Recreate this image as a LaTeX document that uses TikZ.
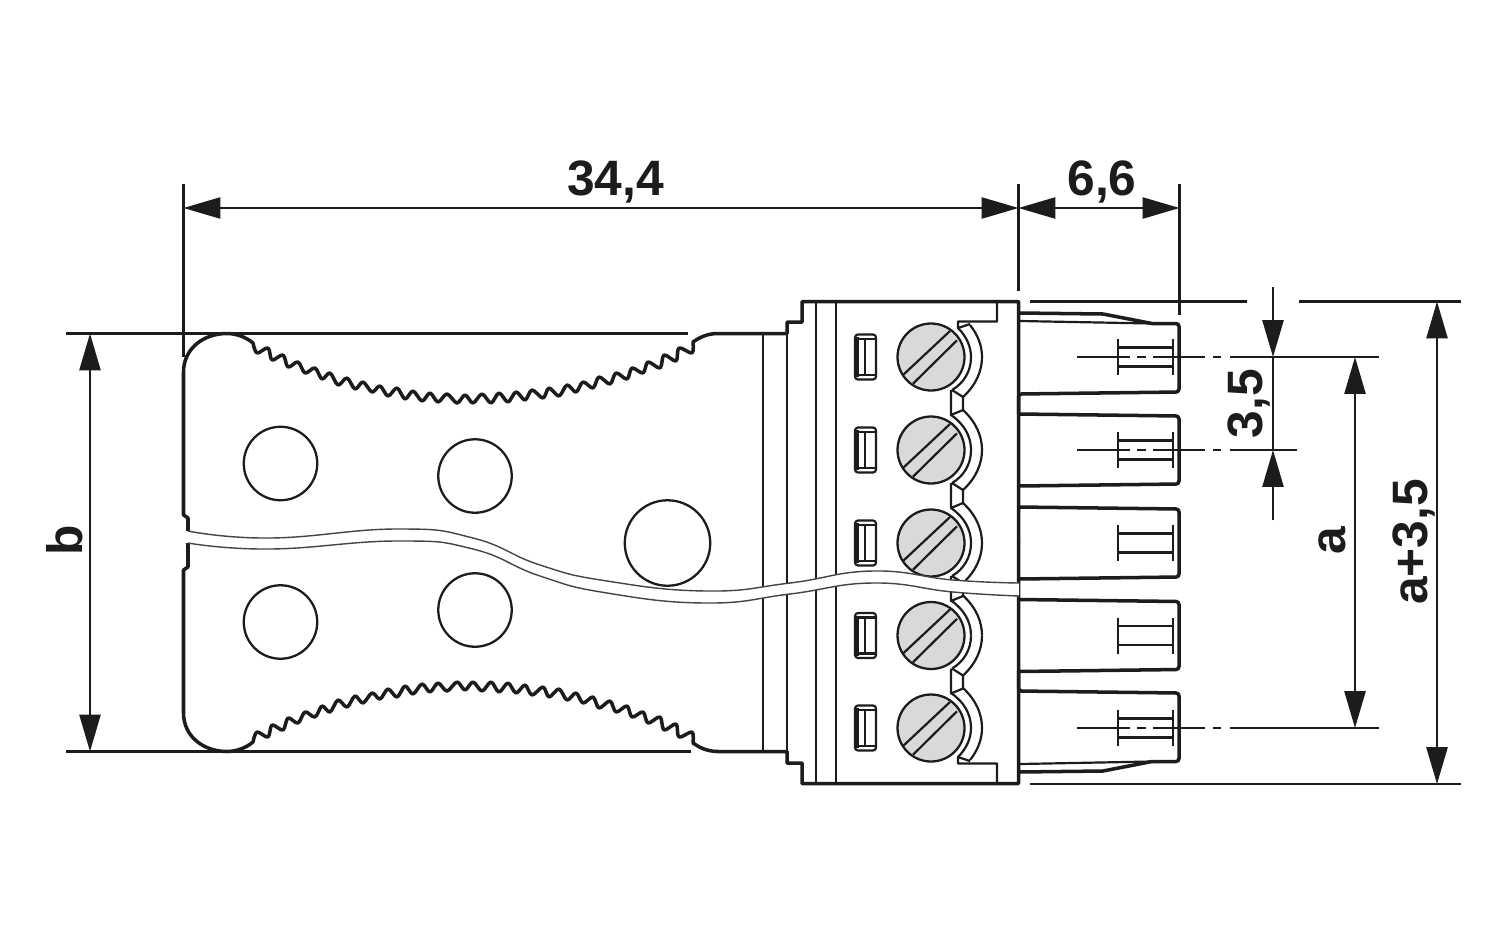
\documentclass[tikz,border=0pt]{standalone}
\usepackage{fontspec}
\setmainfont{Liberation Sans}
\usetikzlibrary{arrows.meta}
\definecolor{ink}{HTML}{1C1C1C}
\definecolor{screwfill}{HTML}{D9D9D9}
\definecolor{bandline}{HTML}{444444}
\tikzset{
  x=0.02cm,y=-0.02cm,
  thickline/.style={draw=ink,line width=2pt,line join=round,line cap=round},
  midline/.style={draw=ink,line width=1.25pt,line join=round},
  dimline/.style={draw=ink,line width=1.25pt},
  dimarrow/.style={dimline,{Triangle[length=21pt,width=12pt]}-{Triangle[length=21pt,width=12pt]},shorten <=0pt,shorten >=0pt},
  onearrow/.style={dimline,-{Triangle[length=21pt,width=12pt]}},
  dimtext/.style={font=\bfseries\fontsize{28.3}{30}\selectfont,text=ink,inner sep=0pt,anchor=base},
  hole/.style={draw=ink,line width=1.3pt},
  screwhead/.style={draw=ink,line width=1.3pt,fill=screwfill},
  bandedge/.style={draw=bandline,line width=0.8pt},
}
\newcommand{\plugHalf}{%
  (188,542.5) -- (188,518) -- (183.5,515) -- (183.5,372)
  .. controls (183.5,349) and (203,333.5) .. (227,333.5)
  .. controls (236,333.5) and (246,337) .. (253,343)
  -- plot[smooth,tension=0.55] coordinates {(253,343)(257,353)(268,348)(272,360)(283,355)(288,367)(298,362)(305,373)(315,368)(322,379)(330,373)(338,385)(347,378)(355,389)(363,382)(372,392)(380,386)(388,396)(397,388)(405,399)(413,391)(422,401)(430,393)(438,402)(447,394)(457,403)(465,395)(473,403)(482,394)(491,403)(499,393)(508,402)(516,392)(525,400)(532,390)(543,398)(549,388)(559,396)(567,385)(576,392)(583,382)(593,388)(599,377)(610,384)(616,373)(627,379)(632,368)(643,373)(648,362)(660,368)(664,355)(676,361)(679,348)(692,353)(693,342)}
  .. controls (700,337) and (708,333.5) .. (718,333.5)
  -- (787,333.5) -- (787,322) -- (802,322) -- (802,301.5) -- (1018.5,301.5) -- (1018.5,542.5)}
\newcommand{\plugMarks}{%
  \draw[midline] (1118,-18) -- (1118,18) (1173,-18) -- (1173,18) (1118,-9.5) -- (1173,-9.5) (1118,9.5) -- (1173,9.5);}
\newcommand{\plugDash}[1]{%
  \draw[midline] (1077,0) -- (1130,0) (1137,0) -- (1146,0) (1153,0) -- (1205,0) (1213,0) -- (1221,0) (1230,0) -- (#1,0);}
\newcommand{\plugOuterTab}{%
  \draw[thickline,rounded corners=1.7pt] (1152,323.5) -- (1179,323.5) -- (1179,392) -- (1018.5,394) -- (1018.5,414);
  \draw[thickline] (1018.5,313) -- (1103,314) -- (1152,323.5);
  \draw[midline] (1020,321) -- (1152,323.5);
  \draw[midline] (997,301.5) -- (997,321.5) -- (958,321.5) -- (958,328) -- (970,324);}
\newcommand{\bandTop}{(188,531)(270,538)(397,529)(473,538)(540,565)(607,581)(707,591)(790,583)(873,571)(953,580)(1019,583)}
\newcommand{\bandLow}{(1019,596)(953,592)(873,583)(790,594)(707,603)(607,593)(540,576)(473,549)(397,541)(270,549)(188,543)}
\begin{document}
\begin{tikzpicture}
\useasboundingbox[fill=white] (0,0) rectangle (1500,937);

% body halves
\draw[thickline] \plugHalf;
\begin{scope}[shift={(0,1085)},yscale=-1]
  \draw[thickline] \plugHalf;
\end{scope}

% vertical body lines
\draw[midline] (763,333.5) -- (763,751.5) (787,333.5) -- (787,751.5);
\draw[midline] (816,301.5) -- (816,783.5) (836,301.5) -- (836,783.5);

% holes in the grip
\node[hole,circle,minimum size=1.47cm,inner sep=0pt] (h1) at (280.5,463.5) {};
\node[hole,circle,minimum size=1.47cm,inner sep=0pt] (h2) at (475,476) {};
\node[hole,circle,minimum size=1.47cm,inner sep=0pt] (h3) at (280.5,622) {};
\node[hole,circle,minimum size=1.47cm,inner sep=0pt] (h4) at (475,610) {};
\node[hole,circle,minimum size=1.71cm,inner sep=0pt] (h5) at (667.5,543) {};

% plug tabs
\plugOuterTab
\begin{scope}[shift={(0,1085)},yscale=-1]
  \plugOuterTab
\end{scope}
\foreach \cy in {450,543,635.5}{
  \draw[thickline,rounded corners=1.7pt] (1018.5,\cy-36) -- (1179,\cy-34) -- (1179,\cy+34) -- (1018.5,\cy+36);
}
\draw[thickline] (1018.5,486) -- (1018.5,507) (1018.5,671.5) -- (1018.5,692);

% windows, screws and arcs
\foreach \cy in {357,450,543,635.5,728}{
  \begin{scope}[shift={(0,\cy)}]
    \draw[midline,rounded corners=1.7pt] (855,-22.5) rectangle (876,22.5);
    \draw[midline] (855.5,-18) -- (875.5,-18) (855.5,18) -- (875.5,18) (865,-18) -- (865,18);
    \draw[line width=2pt,draw=ink] (857,-20) -- (857,20);
  \end{scope}
}
\foreach \cy in {357,450,543,635.5}{
  \begin{scope}[shift={(931,\cy)}]
    \draw[midline] (21,33) -- (32,40) -- (32,53) -- (20,58) -- (20,33);
    \draw[midline] (40,0) .. controls (40,14) and (33,26) .. (21,33);
    \draw[midline] (51,0) .. controls (51,14) and (45,28) .. (32,40);
  \end{scope}
}
\foreach \cy in {450,543,635.5,728}{
  \begin{scope}[shift={(931,\cy)}]
    \draw[midline] (20,-35) .. controls (33,-26) and (40,-14) .. (40,0);
    \draw[midline] (32,-40) .. controls (45,-28) and (51,-14) .. (51,0);
  \end{scope}
}
\begin{scope}[shift={(931,357)}]
  \draw[midline] (27,-29) .. controls (35,-21) and (40,-11) .. (40,0);
  \draw[midline] (39,-32) .. controls (47,-22) and (51,-11) .. (51,0);
\end{scope}
\begin{scope}[shift={(931,728)}]
  \draw[midline] (40,0) .. controls (40,11) and (35,21) .. (27,29);
  \draw[midline] (51,0) .. controls (51,11) and (47,22) .. (39,32);
\end{scope}
\foreach \cy [count=\ii] in {357,450,543,635.5,728}{
  \node[screwhead,circle,minimum size=1.34cm,inner sep=0pt] (s\ii) at (931,\cy) {};
  \begin{scope}[shift={(931,\cy)}]
    \draw[midline] (-28,18) -- (19,-26) (-18,26.7) -- (26,-16.7);
  \end{scope}
}

% tab marks
\foreach \cy in {357,450,543,635.5,728}{
  \begin{scope}[shift={(0,\cy)}]\plugMarks\end{scope}
}
\begin{scope}[shift={(0,357)}]\plugDash{1379}\end{scope}
\begin{scope}[shift={(0,450)}]\plugDash{1297}\end{scope}
\begin{scope}[shift={(0,728)}]\plugDash{1379}\end{scope}

% break band
\fill[white] plot[smooth,tension=0.8] coordinates {\bandTop} -- plot[smooth,tension=0.8] coordinates {\bandLow} -- cycle;
\fill[white] (185,531) rectangle (190,543);
\draw[bandedge] plot[smooth,tension=0.8] coordinates {\bandTop};
\draw[bandedge] plot[smooth,tension=0.8] coordinates {\bandLow};

% dimension anchors
\coordinate (exA1) at (183.5,184); \coordinate (exA2) at (183.5,357);
\coordinate (exB1) at (1018.5,184); \coordinate (exB2) at (1018.5,291);
\coordinate (exC1) at (1179.5,184); \coordinate (exC2) at (1179.5,315);
\coordinate (dA) at (183.5,208); \coordinate (dB) at (1018.5,208); \coordinate (dC) at (1179.5,208);
\coordinate (lT1) at (66,333.5); \coordinate (lT2) at (688,333.5);
\coordinate (lB1) at (66,751.5); \coordinate (lB2) at (691,751.5);
\coordinate (bT) at (90,333.5); \coordinate (bB) at (90,751.5);
\coordinate (rT1) at (1030,301.5); \coordinate (rT2) at (1247,301.5);
\coordinate (rT3) at (1299,301.5); \coordinate (rT4) at (1461,301.5);
\coordinate (rB1) at (1030,784); \coordinate (rB2) at (1461,784);
\coordinate (tT0) at (1273,287); \coordinate (tT1) at (1273,357);
\coordinate (tB0) at (1273,520); \coordinate (tB1) at (1273,450);
\coordinate (aT) at (1355,357); \coordinate (aB) at (1355,728);
\coordinate (cT) at (1437,301.5); \coordinate (cB) at (1437,784);

\draw[dimline] (exA1) -- (exA2) (exB1) -- (exB2) (exC1) -- (exC2);
\draw[dimline] (lT1) -- (lT2) (lB1) -- (lB2);
\draw[dimline] (rT1) -- (rT2) (rT3) -- (rT4) (rB1) -- (rB2);
\draw[dimarrow] (dA) -- (dB);
\draw[dimarrow] (dB) -- (dC);
\draw[dimarrow] (bT) -- (bB);
\draw[onearrow] (tT0) -- (tT1);
\draw[onearrow] (tB0) -- (tB1);
\draw[dimline] (tT1) -- (tB1);
\draw[dimarrow] (aT) -- (aB);
\draw[dimarrow] (cT) -- (cB);

% labels
\node[dimtext] (t344) at (615.5,195) {34,4};
\node[dimtext] (t66) at (1102,195) {6,6};
\node[dimtext,rotate=90] (tb) at (82,540) {b};
\node[dimtext,rotate=90] (t35) at (1262,403.5) {3,5};
\node[dimtext,rotate=90] (ta) at (1345,541) {a};
\node[dimtext,rotate=90] (ta35) at (1427,542) {a+3,5};
\end{tikzpicture}
\end{document}
